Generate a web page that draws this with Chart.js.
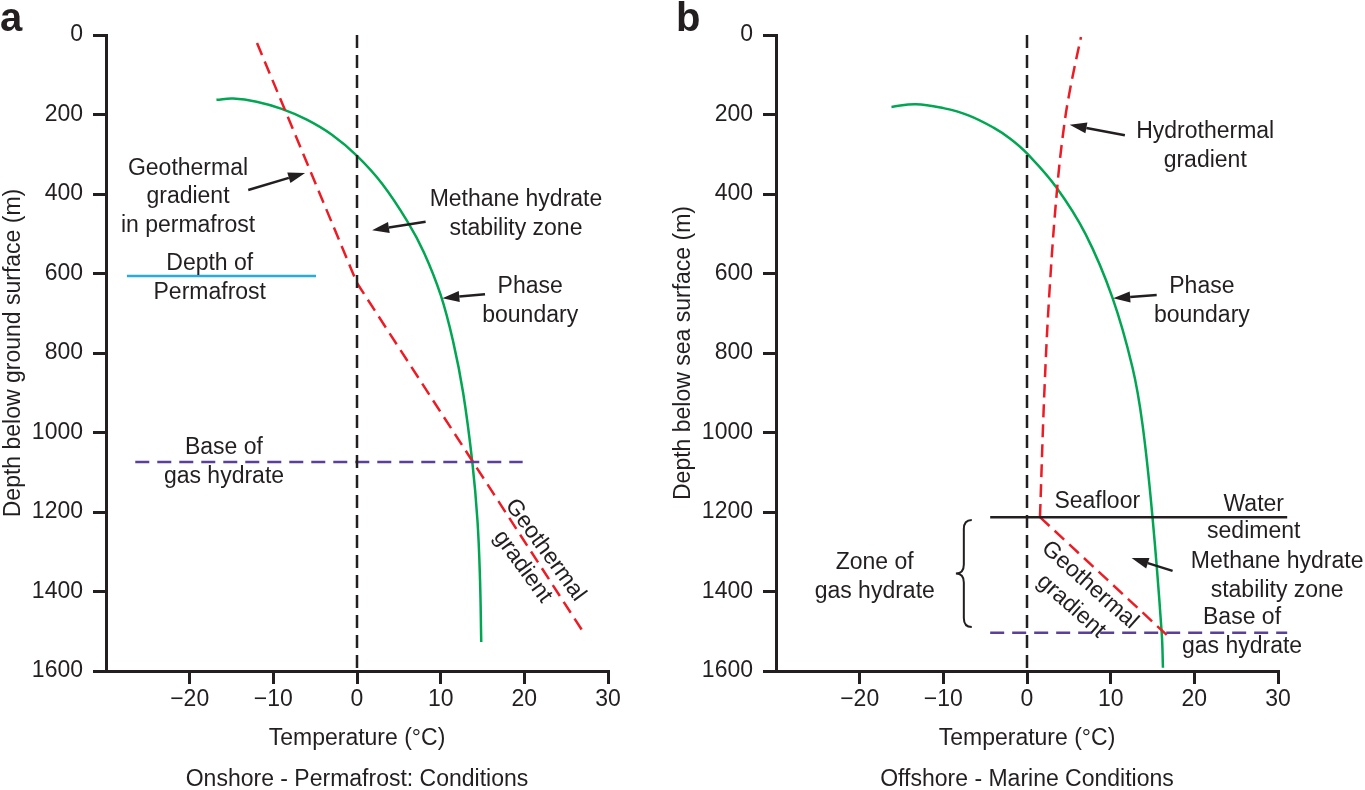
<!DOCTYPE html>
<html>
<head>
<meta charset="utf-8">
<script src="https://cdn.jsdelivr.net/npm/chart.js@4.4.1/dist/chart.umd.min.js"></script>
<style>
  body { margin: 0; background: #fff; overflow: hidden; }
  canvas { position: absolute; top: 0; }
  #graficoOnshore { left: 0; }
  #graficoOffshore { left: 670px; }
</style>
</head>
<body>
<canvas id="graficoOnshore" width="670" height="790"></canvas>
<canvas id="graficoOffshore" width="695" height="790"></canvas>
<script>
// ticks
const tempTicks = [-20, -10, 0, 10, 20, 30];
const depthTicks = [0, 200, 400, 600, 800, 1000, 1200, 1400, 1600];

// dashed 0 °C line (both panels)
const zeroT = [0, 0];
const zeroDepth = [0, 1600];

// panel a - onshore
const onGeoT = [-11.95, 0, 27.1];
const onGeoDepth = [20, 624, 1504];
const onPhaseT = [-16.8, -14.8, -12, -9, -6, -3, 0, 3, 6, 8, 10, 11.5, 12.7, 13.8, 14.4, 14.7, 14.85];
const onPhaseDepth = [163, 160, 168, 186, 213, 251, 304, 374, 468, 547, 654, 772, 902, 1078, 1222, 1367, 1527];
const permafrostT = [-27.5, -4.9];
const permafrostDepth = [606, 606];
const onBaseT = [-26.5, 19.8];
const onBaseDepth = [1074, 1074];

// panel b - offshore
const hydroT = [1.55, 2.1, 2.72, 3.62, 4.42, 5.2, 6.45];
const hydroDepth = [1213, 886, 634, 382, 231, 131, 5];
const offGeoT = [1.55, 17.1];
const offGeoDepth = [1213, 1517];
const offPhaseT = [-16.2, -13.3, -10, -7, -4, -2, 0, 3.5, 7, 10.2, 12.6, 13.8, 15.0, 16.1, 16.25];
const offPhaseDepth = [181, 174, 184, 202, 233, 261, 298, 383, 501, 660, 836, 979, 1213, 1504, 1592];
const seafloorT = [-4.4, 31.1];
const seafloorDepth = [1213, 1213];
const offBaseT = [-4.4, 31.1];
const offBaseDepth = [1504, 1504];

const tinta = '#231f20';
const rojo = '#ed1c24';
const verde = '#00a651';
const azul = '#29abe2';
const violeta = '#5a4099';
const fuente = '"Liberation Sans", Arial, Helvetica, sans-serif';

Chart.defaults.font.family = fuente;
Chart.defaults.color = tinta;

function pts(xs, ys) {
  return xs.map((x, i) => ({ x: x, y: ys[i] }));
}

function linea(xs, ys, color, dash, curva) {
  return {
    data: pts(xs, ys),
    borderColor: color,
    borderWidth: 2.5,
    borderDash: dash || [],
    pointRadius: 0,
    fill: false,
    clip: false,
    tension: curva ? 0.4 : 0
  };
}

// labels, arrows, brace - placed in data units (T, depth)
const onTexts = [
  { lines: ['Geothermal', 'gradient', 'in permafrost'], t: -20.2, d: 335 },
  { lines: ['Methane hydrate', 'stability zone'], t: 19.0, d: 415 },
  { lines: ['Depth of', 'Permafrost'], t: -17.6, d: 574, gap: 29 },
  { lines: ['Phase', 'boundary'], t: 20.7, d: 634 },
  { lines: ['Base of', 'gas hydrate'], t: -15.9, d: 1039 },
  { lines: ['Geothermal', 'gradient'], t: 22.5, d: 1296, angle: 54, gap: 28 }
];
const onArrows = [
  { from: [-13.0, 390], to: [-6.2, 347] },
  { from: [8.2, 470], to: [1.8, 491] },
  { from: [15.3, 652], to: [10.2, 662] }
];
const offTexts = [
  { lines: ['Hydrothermal', 'gradient'], t: 21.3, d: 244 },
  { lines: ['Phase', 'boundary'], t: 20.9, d: 634 },
  { lines: ['Seafloor'], t: 8.4, d: 1175 },
  { lines: ['Water', 'sediment'], t: 27.1, d: 1182, gap: 27 },
  { lines: ['Methane hydrate', 'stability zone'], t: 29.9, d: 1326 },
  { lines: ['Base of', 'gas hydrate'], t: 25.7, d: 1467 },
  { lines: ['Zone of', 'gas hydrate'], t: -18.2, d: 1328 },
  { lines: ['Geothermal', 'gradient'], t: 7.5, d: 1384, angle: 41.5, gap: 28 }
];
const offArrows = [
  { from: [11.7, 252], to: [5.1, 226] },
  { from: [15.5, 654], to: [10.3, 662] },
  { from: [17.4, 1348], to: [12.5, 1316] }
];
const offBrace = { right: -6.6, tip: -8.5, top: 1220, bottom: 1489 };

function flecha(ctx, x1, y1, x2, y2) {
  const ang = Math.atan2(y2 - y1, x2 - x1);
  const largo = 17, ancho = 5.5;
  const bx = x2 - largo * Math.cos(ang), by = y2 - largo * Math.sin(ang);
  ctx.lineWidth = 2.5;
  ctx.beginPath();
  ctx.moveTo(x1, y1);
  ctx.lineTo(bx, by);
  ctx.stroke();
  ctx.beginPath();
  ctx.moveTo(x2, y2);
  ctx.lineTo(bx - ancho * Math.sin(ang), by + ancho * Math.cos(ang));
  ctx.lineTo(bx + ancho * Math.sin(ang), by - ancho * Math.cos(ang));
  ctx.closePath();
  ctx.fill();
}

function notas(letra, caption, texts, arrows, brace) {
  return {
    id: 'notas',
    afterDraw(chart) {
      const { ctx, chartArea } = chart;
      const sx = chart.scales.x, sy = chart.scales.y;
      ctx.save();
      ctx.fillStyle = tinta;
      ctx.strokeStyle = tinta;
      ctx.font = '23px ' + fuente;
      ctx.textAlign = 'center';
      ctx.textBaseline = 'middle';

      texts.forEach(t => {
        ctx.save();
        ctx.translate(sx.getPixelForValue(t.t), sy.getPixelForValue(t.d));
        ctx.rotate((t.angle || 0) * Math.PI / 180);
        t.lines.forEach((l, i) => ctx.fillText(l, 0, i * (t.gap || 28.5)));
        ctx.restore();
      });

      arrows.forEach(a => {
        flecha(ctx,
          sx.getPixelForValue(a.from[0]), sy.getPixelForValue(a.from[1]),
          sx.getPixelForValue(a.to[0]), sy.getPixelForValue(a.to[1]));
      });

      if (brace) {
        const xr = sx.getPixelForValue(brace.right);
        const xt = sx.getPixelForValue(brace.tip);
        const xm = (xr + xt) / 2;
        const yt = sy.getPixelForValue(brace.top);
        const yb = sy.getPixelForValue(brace.bottom);
        const ym = (yt + yb) / 2;
        ctx.lineWidth = 2;
        ctx.beginPath();
        ctx.moveTo(xr, yt);
        ctx.quadraticCurveTo(xm, yt, xm, yt + 9);
        ctx.lineTo(xm, ym - 9);
        ctx.quadraticCurveTo(xm, ym, xt, ym);
        ctx.quadraticCurveTo(xm, ym, xm, ym + 9);
        ctx.lineTo(xm, yb - 9);
        ctx.quadraticCurveTo(xm, yb, xr, yb);
        ctx.stroke();
      }

      // caption under the axis title
      ctx.fillText(caption, (chartArea.left + chartArea.right) / 2, 780);

      // panel letter
      ctx.font = 'bold 40px ' + fuente;
      ctx.textAlign = 'left';
      ctx.textBaseline = 'alphabetic';
      ctx.fillText(letra, letra === 'a' ? 0 : 6, 31);
      ctx.restore();
    }
  };
}

function escalas(tituloY) {
  const rejilla = { drawOnChartArea: false, drawTicks: true, tickLength: 13, color: tinta, lineWidth: 3 };
  return {
    x: {
      type: 'linear', min: -30, max: 30,
      afterBuildTicks: s => { s.ticks = tempTicks.map(v => ({ value: v })); },
      afterFit: s => { s.height = 119; },
      ticks: {
        font: { size: 23 }, color: tinta, padding: 2, maxRotation: 0,
        callback: v => (v < 0 ? '\u2212' + Math.abs(v) : String(v))
      },
      grid: rejilla,
      border: { color: tinta, width: 3 },
      title: { display: true, text: 'Temperature (\u00b0C)', font: { size: 23 }, color: tinta, padding: { top: 0, bottom: 38 } }
    },
    y: {
      type: 'linear', min: 0, max: 1600, reverse: true,
      afterBuildTicks: s => { s.ticks = depthTicks.map(v => ({ value: v })); },
      afterFit: s => { s.width = 106; },
      ticks: { font: { size: 23 }, color: tinta, padding: 10, callback: v => String(v) },
      grid: rejilla,
      border: { color: tinta, width: 3 },
      title: { display: true, text: tituloY, font: { size: 23 }, color: tinta, padding: { top: 0, bottom: 0 } }
    }
  };
}

function opciones(tituloY, derecha) {
  return {
    responsive: false,
    animation: false,
    devicePixelRatio: 1,
    layout: { padding: { top: 35, right: derecha, left: 0, bottom: 0 } },
    plugins: { legend: { display: false }, tooltip: { enabled: false } },
    scales: escalas(tituloY)
  };
}

//Panel a
new Chart(document.getElementById('graficoOnshore'), {
  type: 'line',
  data: {
    datasets: [
      linea(zeroT, zeroDepth, tinta, [13, 7]),
      linea(permafrostT, permafrostDepth, azul),
      linea(onBaseT, onBaseDepth, violeta, [14, 8]),
      linea(onGeoT, onGeoDepth, rojo, [13, 7]),
      linea(onPhaseT, onPhaseDepth, verde, null, true)
    ]
  },
  options: opciones('Depth below ground surface (m)', 62),
  plugins: [notas('a', 'Onshore - Permafrost: Conditions', onTexts, onArrows, null)]
});

//Panel b
new Chart(document.getElementById('graficoOffshore'), {
  type: 'line',
  data: {
    datasets: [
      linea(zeroT, zeroDepth, tinta, [13, 7]),
      linea(seafloorT, seafloorDepth, tinta),
      linea(offBaseT, offBaseDepth, violeta, [14, 8]),
      linea(hydroT, hydroDepth, rojo, [13, 7], true),
      linea(offGeoT, offGeoDepth, rojo, [13, 7]),
      linea(offPhaseT, offPhaseDepth, verde, null, true)
    ]
  },
  options: opciones('Depth below sea surface (m)', 87),
  plugins: [notas('b', 'Offshore - Marine Conditions', offTexts, offArrows, offBrace)]
});
</script>
</body>
</html>
